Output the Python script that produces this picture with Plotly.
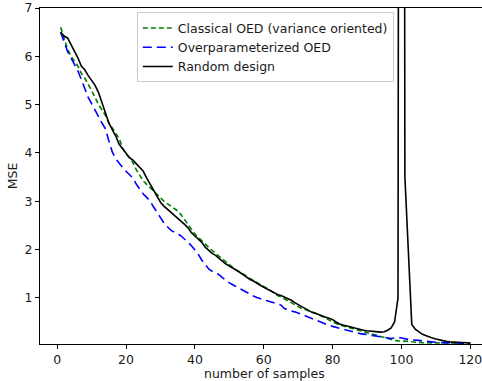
import plotly.graph_objects as go

samples = list(range(1, 121))

classical = [
    6.60, 6.35, 6.15, 6.00, 5.90, 5.80, 5.65, 5.55, 5.42, 5.30,
    5.15, 5.00, 4.90, 4.78, 4.62, 4.52, 4.42, 4.30, 4.10, 3.98,
    3.90, 3.80, 3.65, 3.52, 3.42, 3.35, 3.28, 3.20, 3.12, 3.05,
    3.00, 2.95, 2.90, 2.85, 2.80, 2.72, 2.62, 2.52, 2.42, 2.32,
    2.25, 2.18, 2.10, 2.04, 1.98, 1.92, 1.86, 1.80, 1.74, 1.68,
    1.63, 1.58, 1.54, 1.50, 1.45, 1.40, 1.36, 1.32, 1.28, 1.24,
    1.20, 1.15, 1.10, 1.05, 1.02, 0.98, 0.94, 0.90, 0.86, 0.82,
    0.78, 0.76, 0.74, 0.71, 0.68, 0.65, 0.62, 0.58, 0.54, 0.50,
    0.47, 0.44, 0.42, 0.40, 0.38, 0.36, 0.34, 0.32, 0.30, 0.27,
    0.25, 0.23, 0.21, 0.19, 0.17, 0.15, 0.13, 0.12, 0.11, 0.11,
    0.10, 0.10, 0.09, 0.08, 0.08, 0.07, 0.07, 0.07, 0.065, 0.065,
    0.065, 0.063, 0.062, 0.062, 0.061, 0.061, 0.060, 0.060, 0.060, 0.060,
]

overparam = [
    6.50, 6.30, 6.10, 5.97, 5.85, 5.70, 5.52, 5.35, 5.15, 5.02,
    4.90, 4.75, 4.62, 4.50, 4.25, 4.02, 3.88, 3.78, 3.70, 3.62,
    3.55, 3.48, 3.35, 3.25, 3.15, 3.08, 3.00, 2.88, 2.78, 2.66,
    2.55, 2.47, 2.40, 2.36, 2.33, 2.28, 2.22, 2.15, 2.08, 2.00,
    1.90, 1.78, 1.68, 1.60, 1.55, 1.52, 1.48, 1.42, 1.36, 1.31,
    1.27, 1.23, 1.19, 1.15, 1.11, 1.07, 1.04, 1.01, 0.98, 0.96,
    0.94, 0.92, 0.90, 0.88, 0.85, 0.78, 0.75, 0.73, 0.71, 0.69,
    0.66, 0.63, 0.60, 0.58, 0.55, 0.52, 0.49, 0.46, 0.43, 0.41,
    0.39, 0.37, 0.35, 0.33, 0.31, 0.29, 0.28, 0.26, 0.25, 0.24,
    0.22, 0.21, 0.20, 0.19, 0.18, 0.17, 0.16, 0.17, 0.18, 0.17,
    0.15, 0.14, 0.13, 0.13, 0.12, 0.11, 0.10, 0.09, 0.085, 0.08,
    0.075, 0.07, 0.068, 0.066, 0.065, 0.063, 0.062, 0.061, 0.060, 0.060,
]

random_design = [
    6.50, 6.42, 6.38, 6.25, 6.10, 5.97, 5.80, 5.72, 5.60, 5.50,
    5.40, 5.25, 5.05, 4.85, 4.62, 4.48, 4.35, 4.18, 4.08, 3.98,
    3.90, 3.85, 3.78, 3.70, 3.62, 3.48, 3.35, 3.22, 3.10, 2.98,
    2.90, 2.84, 2.76, 2.70, 2.66, 2.60, 2.52, 2.45, 2.35, 2.28,
    2.22, 2.15, 2.05, 1.98, 1.92, 1.88, 1.82, 1.75, 1.70, 1.66,
    1.62, 1.58, 1.53, 1.48, 1.42, 1.38, 1.35, 1.30, 1.26, 1.22,
    1.18, 1.15, 1.10, 1.07, 1.05, 1.02, 0.98, 0.95, 0.90, 0.86,
    0.82, 0.78, 0.74, 0.70, 0.68, 0.65, 0.62, 0.60, 0.58, 0.55,
    0.50, 0.46, 0.44, 0.42, 0.40, 0.38, 0.36, 0.35, 0.33, 0.32,
    0.31, 0.30, 0.29, 0.29, 0.30, 0.33, 0.38, 0.50, 1.00, 60.0,
    3.50, 1.95, 0.45, 0.35, 0.30, 0.25, 0.22, 0.19, 0.17, 0.15,
    0.13, 0.11, 0.10, 0.09, 0.085, 0.08, 0.075, 0.07, 0.07, 0.065,
]

FS = 12.5
TXT = "#1a1a1a"

fig = go.Figure()
fig.add_trace(go.Scatter(x=samples, y=classical, mode="lines",
                         name="Classical OED (variance oriented)",
                         line=dict(color="green", width=1.6, dash="5px,3px")))
fig.add_trace(go.Scatter(x=samples, y=overparam, mode="lines",
                         name="Overparameterized OED",
                         line=dict(color="blue", width=1.6, dash="9px,5px")))
fig.add_trace(go.Scatter(x=samples, y=random_design, mode="lines",
                         name="Random design",
                         line=dict(color="black", width=1.6)))

axis_common = dict(showline=True, linecolor="black", linewidth=1, mirror=True,
                   ticks="outside", ticklen=4, tickcolor="black", showgrid=False,
                   zeroline=False, tickfont=dict(size=FS, color=TXT),
                   ticklabeloverflow="allow")

fig.update_layout(
    width=482, height=381,
    margin=dict(l=40, r=0, t=8, b=37),
    paper_bgcolor="white", plot_bgcolor="white",
    font=dict(family="DejaVu Sans", size=FS, color=TXT),
    showlegend=True,
    legend=dict(x=0.219, y=0.987, xanchor="left", yanchor="top",
                bgcolor="rgba(255,255,255,0.9)", bordercolor="#cccccc", borderwidth=1,
                font=dict(size=FS, color=TXT), tracegroupgap=0,
                itemwidth=30),
    xaxis=dict(range=[-5.0, 123.4], tickvals=[0, 20, 40, 60, 80, 100, 120], **axis_common),
    yaxis=dict(range=[0.045, 7], tickvals=[1, 2, 3, 4, 5, 6, 7],
               title=dict(text="MSE", standoff=4, font=dict(size=FS, color=TXT)),
               **axis_common),
    annotations=[dict(text="number of samples", xref="paper", yref="paper",
                      x=0.509, y=-0.087, xanchor="center", yanchor="middle",
                      showarrow=False, font=dict(size=FS, color=TXT))],
)

fig.write_html("out.html")
